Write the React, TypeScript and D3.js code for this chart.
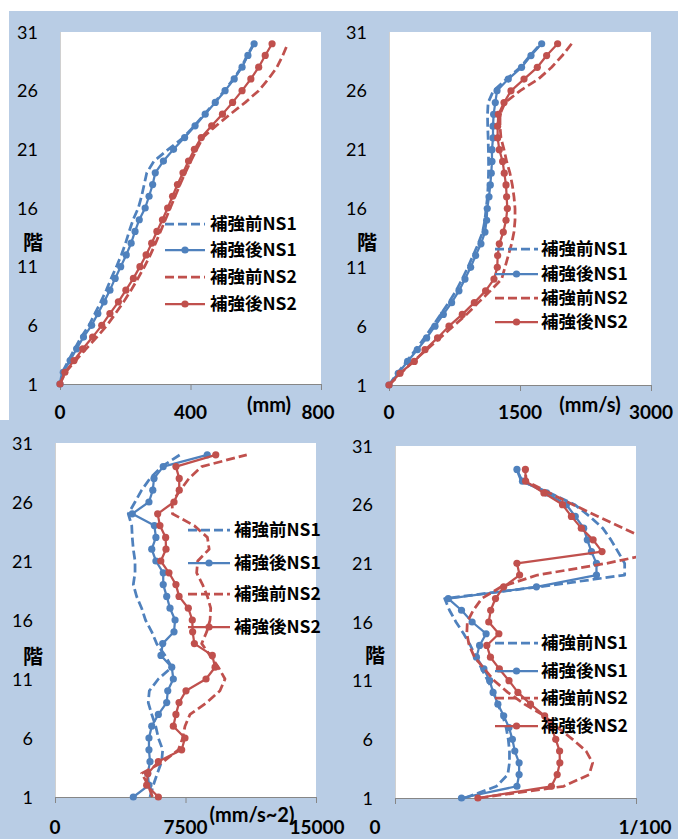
import React from "react";
import * as d3 from "d3";

// Floor numbers (vertical axis categories)
const FLOORS_30 = [1, 2, 3, 4, 5, 6, 7, 8, 9, 10, 11, 12, 13, 14, 15, 16, 17, 18, 19, 20, 21, 22, 23, 24, 25, 26, 27, 28, 29, 30];
const FLOORS_29 = [1, 2, 3, 4, 5, 6, 7, 8, 9, 10, 11, 12, 13, 14, 15, 16, 17, 18, 19, 20, 21, 22, 23, 24, 25, 26, 27, 28, 29];
const FLOOR_TICKS = [1, 6, 11, 16, 21, 26, 31];
const SERIES_NAMES = ["補強前NS1", "補強後NS1", "補強前NS2", "補強後NS2"];
const FLOOR_TITLE = "階";

// Maximum displacement (mm)
const dispBeforeNS1 = [0, 7, 26, 45, 65, 89, 107, 125, 142, 157, 173, 188, 201, 212, 224, 240, 250, 258, 266, 288, 332, 378, 412, 443, 474, 504, 532, 556, 574, 594];
const dispAfterNS1 = [0, 10, 31, 51, 72, 97, 116, 135, 153, 169, 186, 203, 218, 230, 243, 261, 273, 284, 292, 317, 348, 382, 414, 445, 476, 506, 534, 558, 576, 595];
const dispBeforeNS2 = [0, 17, 48, 80, 113, 144, 170, 195, 218, 239, 259, 277, 293, 308, 323, 338, 353, 368, 384, 401, 419, 438, 478, 522, 568, 609, 639, 665, 683, 698];
const dispAfterNS2 = [0, 15, 43, 70, 100, 128, 153, 179, 202, 225, 245, 264, 281, 297, 314, 330, 345, 360, 377, 394, 412, 433, 465, 498, 529, 558, 585, 609, 629, 650];
const dispTicks = [0, 400, 800];
const dispTickLabels = ["0", "400", "800"];

// Maximum velocity (mm/s)
const velBeforeNS1 = [0, 95, 200, 305, 405, 500, 592, 683, 768, 838, 903, 962, 1022, 1072, 1098, 1112, 1128, 1135, 1140, 1140, 1138, 1135, 1130, 1128, 1135, 1195, 1345, 1505, 1615, 1738];
const velAfterNS1 = [0, 106, 213, 324, 431, 527, 622, 717, 801, 870, 935, 992, 1053, 1099, 1118, 1125, 1145, 1160, 1171, 1179, 1179, 1191, 1191, 1198, 1217, 1237, 1366, 1518, 1626, 1748];
const velBeforeNS2 = [0, 137, 278, 431, 584, 736, 889, 1022, 1160, 1290, 1328, 1366, 1404, 1431, 1443, 1443, 1431, 1412, 1385, 1347, 1317, 1282, 1271, 1271, 1328, 1500, 1710, 1862, 1985, 2091];
const velAfterNS2 = [0, 126, 290, 412, 556, 687, 839, 977, 1106, 1202, 1240, 1244, 1263, 1309, 1340, 1355, 1347, 1340, 1320, 1301, 1263, 1244, 1244, 1252, 1317, 1397, 1546, 1698, 1805, 1931];
const velTicks = [0, 1500, 3000];
const velTickLabels = ["0", "1500", "3000"];

// Maximum acceleration (mm/s^2)
const accBeforeNS1 = [5460, 5650, 5880, 6130, 6190, 5940, 5790, 5560, 5360, 5420, 5940, 6710, 6320, 5840, 5560, 5200, 4980, 4690, 4500, 4600, 4600, 4500, 4440, 4410, 4210, 4600, 4980, 5460, 6130, 7180];
const accAfterNS1 = [4500, 5400, 5330, 5460, 5400, 5400, 5560, 5940, 6420, 6480, 6800, 6710, 6090, 6190, 6840, 6900, 6610, 6420, 6220, 6220, 5800, 5560, 5800, 5710, 4440, 5400, 5620, 5690, 6220, 8750];
const accBeforeNS2 = [5600, 5360, 4980, 6230, 7090, 7340, 7470, 7760, 8720, 9480, 9770, 9390, 8910, 8430, 8720, 8910, 8950, 8760, 8480, 8140, 8200, 8860, 8760, 8000, 6750, 6730, 7200, 7700, 8430, 11020];
const accAfterNS2 = [5940, 5270, 5330, 5940, 7280, 7470, 6800, 6950, 7130, 7530, 8680, 9200, 9040, 8010, 7910, 7890, 7660, 7130, 6950, 6550, 6080, 6380, 6360, 6030, 5900, 6840, 7140, 7140, 6950, 9240];
const accTicks = [0, 7500, 15000];
const accTickLabels = ["0", "7500", "15000"];

// Maximum story drift angle (rad)
const driftBeforeNS1 = [0.0029, 0.00421, 0.00468, 0.00475, 0.00475, 0.0047, 0.00461, 0.00447, 0.00426, 0.0041, 0.00385, 0.0036, 0.00336, 0.00313, 0.00285, 0.00253, 0.00226, 0.00206, 0.006, 0.00953, 0.00953, 0.00925, 0.00896, 0.00862, 0.00808, 0.00746, 0.00642, 0.00525, 0.00505];
const driftAfterNS1 = [0.00276, 0.00506, 0.00515, 0.00515, 0.00497, 0.00487, 0.00473, 0.00451, 0.00427, 0.00407, 0.00393, 0.00369, 0.00338, 0.00351, 0.00378, 0.0032, 0.00276, 0.00221, 0.00587, 0.00836, 0.00836, 0.00815, 0.00798, 0.00783, 0.00748, 0.00711, 0.00629, 0.00529, 0.00506];
const driftBeforeNS2 = [0.0035, 0.007, 0.00806, 0.0082, 0.00793, 0.00737, 0.00675, 0.0062, 0.00537, 0.00468, 0.00412, 0.00371, 0.0033, 0.00308, 0.00298, 0.003, 0.00325, 0.0036, 0.00441, 0.00591, 0.00878, 0.0111, 0.0105, 0.00946, 0.00842, 0.00739, 0.00641, 0.00545, 0.0054];
const driftAfterNS2 = [0.00344, 0.00649, 0.00673, 0.00684, 0.00683, 0.00667, 0.00649, 0.00621, 0.00562, 0.0051, 0.00473, 0.00433, 0.00396, 0.00381, 0.00431, 0.00389, 0.00397, 0.00417, 0.00451, 0.00517, 0.00506, 0.00859, 0.00822, 0.00773, 0.00732, 0.00695, 0.00618, 0.00542, 0.00541];
const driftTicks = [0, 0.01];
const driftTickLabels = ["0", "1/100"];

const BLUE = "#4F81BD";
const RED = "#C0504D";
const BG = "#B9CDE5";
const NUM_FONT = "Lato, 'Open Sans', sans-serif";
const CJK_FONT = "'Noto Sans CJK JP', 'Noto Sans', sans-serif";

type Series = { name: string; values: number[]; color: string; dashed: boolean };

type PanelSpec = {
  id: string;
  left: number;
  right: number;
  top: number;
  bottom: number;
  domain: [number, number];
  ticks: number[];
  tickLabels: string[];
  tickLabelShift: number[];
  tickBaseline: number;
  unit?: string;
  unitX?: number;
  unitY?: number;
  floorLabelRight: number;
  titleX: number;
  titleY: number;
  floors: number[];
  series: Series[];
  legend: { x0: number; x1: number; tx: number; ys: number[] };
};

const makeSeries = (v: number[][]): Series[] => [
  { name: SERIES_NAMES[0], values: v[0], color: BLUE, dashed: true },
  { name: SERIES_NAMES[1], values: v[1], color: BLUE, dashed: false },
  { name: SERIES_NAMES[2], values: v[2], color: RED, dashed: true },
  { name: SERIES_NAMES[3], values: v[3], color: RED, dashed: false },
];

const panels: PanelSpec[] = [
  {
    id: "disp",
    left: 60, right: 321, top: 32, bottom: 384,
    domain: [0, 800], ticks: dispTicks, tickLabels: dispTickLabels, tickLabelShift: [0, 0, -3],
    tickBaseline: 419, unit: "(mm)", unitX: 269, unitY: 412,
    floorLabelRight: 38, titleX: 33, titleY: 243,
    floors: FLOORS_30,
    series: makeSeries([dispBeforeNS1, dispAfterNS1, dispBeforeNS2, dispAfterNS2]),
    legend: { x0: 165, x1: 205, tx: 210, ys: [224, 250, 277, 304] },
  },
  {
    id: "vel",
    left: 389, right: 651, top: 32, bottom: 385,
    domain: [0, 3000], ticks: velTicks, tickLabels: velTickLabels, tickLabelShift: [0, 0, 0],
    tickBaseline: 419, unit: "(mm/s)", unitX: 590, unitY: 412,
    floorLabelRight: 367, titleX: 367, titleY: 243,
    floors: FLOORS_30,
    series: makeSeries([velBeforeNS1, velAfterNS1, velBeforeNS2, velAfterNS2]),
    legend: { x0: 495, x1: 538, tx: 541, ys: [249, 274, 298, 322] },
  },
  {
    id: "acc",
    left: 55, right: 316, top: 443, bottom: 797,
    domain: [0, 15000], ticks: accTicks, tickLabels: accTickLabels, tickLabelShift: [0, 0, 1],
    tickBaseline: 834, unit: "(mm/s~2)", unitX: 252, unitY: 822,
    floorLabelRight: 33, titleX: 33, titleY: 657,
    floors: FLOORS_30,
    series: makeSeries([accBeforeNS1, accAfterNS1, accBeforeNS2, accAfterNS2]),
    legend: { x0: 188, x1: 230, tx: 234, ys: [530, 563, 594, 627] },
  },
  {
    id: "drift",
    left: 395, right: 636, top: 446, bottom: 798,
    domain: [0, 0.01], ticks: driftTicks, tickLabels: driftTickLabels, tickLabelShift: [-20, 9],
    tickBaseline: 834,
    floorLabelRight: 373, titleX: 375, titleY: 656,
    floors: FLOORS_29,
    series: makeSeries([driftBeforeNS1, driftAfterNS1, driftBeforeNS2, driftAfterNS2]),
    legend: { x0: 495, x1: 538, tx: 541, ys: [643, 671, 698, 726] },
  },
];

function Panel({ p }: { p: PanelSpec }) {
  const x = d3.scaleLinear().domain(p.domain).range([p.left, p.right]);
  const y = d3.scaleLinear().domain([1, 31]).range([p.bottom, p.top]);
  const line = d3
    .line<number>()
    .x((d) => x(d))
    .y((_, i) => y(p.floors[i]));
  const clipId = `clip-${p.id}`;

  return (
    <g>
      <defs>
        <clipPath id={clipId}>
          <rect x={p.left - 5} y={p.top - 6} width={p.right - p.left + 5} height={p.bottom - p.top + 12} />
        </clipPath>
      </defs>
      <rect x={p.left} y={p.top} width={p.right - p.left} height={p.bottom - p.top} fill="#FFFFFF" />
      <line x1={p.left + 0.5} x2={p.left + 0.5} y1={p.top} y2={p.bottom} stroke="#D0D0D0" strokeWidth={1} />

      {/* horizontal axis */}
      <line x1={p.left} x2={p.right} y1={p.bottom + 0.5} y2={p.bottom + 0.5} stroke="#868686" strokeWidth={1} />
      {p.ticks.map((t) => (
        <line key={`t${t}`} x1={x(t) + 0.5} x2={x(t) + 0.5} y1={p.bottom} y2={p.bottom + 6} stroke="#868686" strokeWidth={1} />
      ))}
      {p.ticks.map((t, i) => (
        <text
          key={`tl${t}`}
          x={x(t) + p.tickLabelShift[i]}
          y={p.tickBaseline}
          textAnchor="middle"
          fontFamily={NUM_FONT}
          fontWeight={700}
          fontSize={19}
          fill="#000"
        >
          {p.tickLabels[i]}
        </text>
      ))}
      {p.unit && (
        <text x={p.unitX} y={p.unitY} textAnchor="middle" fontFamily={NUM_FONT} fontWeight={700} fontSize={20} fill="#000">
          {p.unit}
        </text>
      )}

      {/* vertical axis labels */}
      {FLOOR_TICKS.map((f) => (
        <text key={`f${f}`} x={p.floorLabelRight} y={y(f) + 6.5} textAnchor="end" fontFamily={NUM_FONT} fontSize={18} fill="#000">
          {f}
        </text>
      ))}
      <text x={p.titleX} y={p.titleY + 7} textAnchor="middle" fontFamily={CJK_FONT} fontWeight={700} fontSize={20} fill="#000">
        {FLOOR_TITLE}
      </text>

      {/* series */}
      <g clipPath={`url(#${clipId})`}>
        {p.series.map((s) => (
          <g key={s.name}>
            <path
              d={line(s.values) || ""}
              fill="none"
              stroke={s.color}
              strokeWidth={s.dashed ? 2.75 : 2.25}
              strokeDasharray={s.dashed ? "9,4" : undefined}
              strokeLinejoin="round"
            />
            {!s.dashed &&
              s.values.map((v, i) => <circle key={i} cx={x(v)} cy={y(p.floors[i])} r={3.6} fill={s.color} />)}
          </g>
        ))}
      </g>

      {/* legend */}
      {p.series.map((s, i) => {
        const ly = p.legend.ys[i];
        return (
          <g key={`lg${s.name}`}>
            <line
              x1={p.legend.x0}
              x2={p.legend.x1}
              y1={ly}
              y2={ly}
              stroke={s.color}
              strokeWidth={s.dashed ? 2.75 : 2.25}
              strokeDasharray={s.dashed ? "9,4" : undefined}
            />
            {!s.dashed && <circle cx={(p.legend.x0 + p.legend.x1) / 2} cy={ly} r={3.6} fill={s.color} />}
            <text x={p.legend.tx} y={ly + 6} fontFamily={CJK_FONT} fontWeight={700} fontSize={17.5} fill="#000">
              {s.name}
            </text>
          </g>
        );
      })}
    </g>
  );
}

export default function App() {
  return (
    <svg
      width={678}
      height={839}
      viewBox="0 0 678 839"
      style={{ position: "absolute", left: 0, top: 0, display: "block" }}
    >
      <rect x={0} y={0} width={678} height={839} fill="#FFFFFF" />
      <rect x={9} y={11} width={669} height={409} fill={BG} />
      <rect x={0} y={420} width={678} height={419} fill={BG} />
      {panels.map((p) => (
        <Panel key={p.id} p={p} />
      ))}
    </svg>
  );
}
